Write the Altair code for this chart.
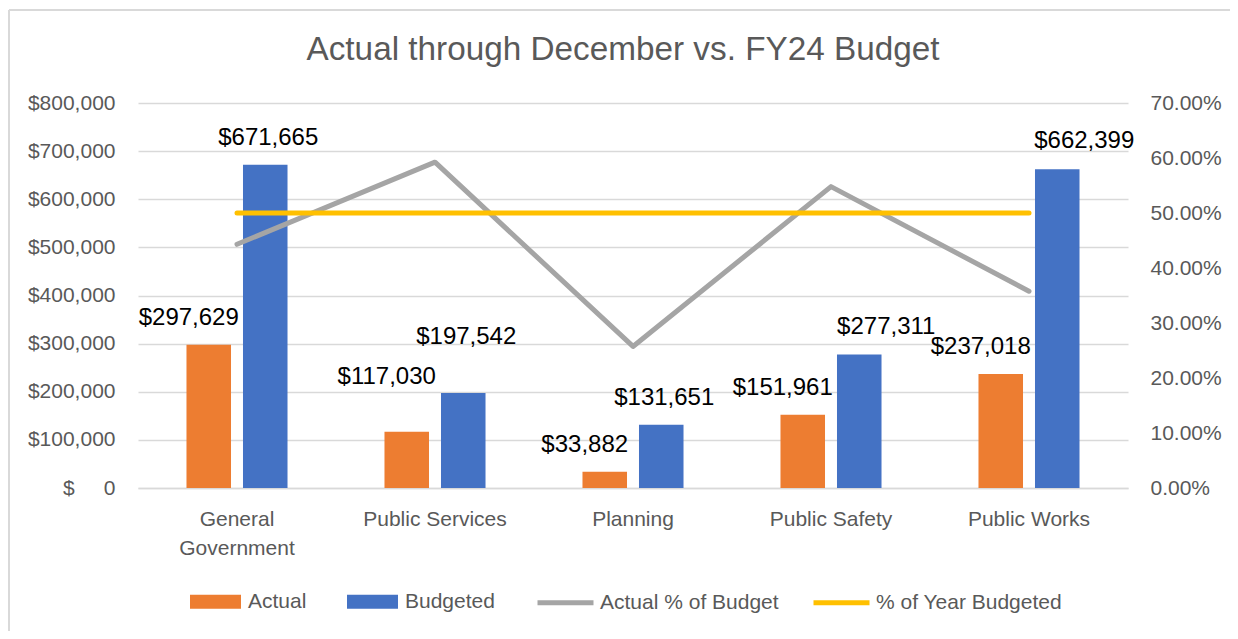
import altair as alt
import pandas as pd

categories = ["General Government", "Public Services", "Planning", "Public Safety", "Public Works"]
actual = [297629, 117030, 33882, 151961, 237018]
budgeted = [671665, 197542, 131651, 277311, 662399]
actual_pct = [0.4431, 0.5924, 0.2574, 0.5480, 0.3578]
year_budgeted = [0.50, 0.50, 0.50, 0.50, 0.50]

bar_series = ["Actual", "Budgeted"]
line_series = ["Actual % of Budget", "% of Year Budgeted"]
bar_colors = ["#ED7D31", "#4472C4"]
line_colors = ["#A5A5A5", "#FFC000"]

left_ticks = [0, 100000, 200000, 300000, 400000, 500000, 600000, 700000, 800000]
right_ticks = [0.0, 0.1, 0.2, 0.3, 0.4, 0.5, 0.6, 0.7]

title_text = "Actual through December vs. FY24 Budget"

FONT = "Liberation Sans"
GREY = "#595959"
GRID = "#D9D9D9"

bars_df = pd.DataFrame({
    "category": categories * 2,
    "bar_series": [bar_series[0]] * len(categories) + [bar_series[1]] * len(categories),
    "amount": actual + budgeted,
})
bars_df["label"] = bars_df["amount"].map(lambda v: f"${v:,.0f}")

lines_df = pd.DataFrame({
    "category": categories * 2,
    "line_series": [line_series[0]] * len(categories) + [line_series[1]] * len(categories),
    "pct": actual_pct + year_budgeted,
    "idx": list(range(len(categories))) * 2,
})

x_enc = alt.X(
    "category:N",
    sort=categories,
    scale=alt.Scale(paddingInner=0, paddingOuter=0),
    axis=alt.Axis(
        title=None, labelAngle=0, labelFont=FONT, labelFontSize=21, labelColor=GREY,
        labelPadding=20, ticks=False, tickSize=0, domainColor=GRID, domainWidth=1.3,
        labelLineHeight=29, labelLimit=0, labelBaseline="top",
        labelExpr="datum.label == 'General Government' ? ['General', 'Government'] : datum.label",
    ),
)
xoff_enc = alt.XOffset(
    "bar_series:N",
    sort=bar_series,
    scale=alt.Scale(domain=bar_series, paddingInner=0.212, paddingOuter=0.858),
)
y_left = alt.Y(
    "amount:Q",
    scale=alt.Scale(domain=[0, 800000], nice=False, zero=True),
    axis=alt.Axis(
        title=None, values=left_ticks, grid=True, gridColor=GRID, gridWidth=1.3,
        ticks=False, domain=False, labelPadding=23, labelFont=FONT, labelFontSize=21,
        labelColor=GREY,
        labelExpr="datum.value == 0 ? '$\u00a0\u00a0\u00a0\u00a0\u00a00' : '$' + format(datum.value, ',')",
    ),
)

bars = alt.Chart(bars_df).mark_bar().encode(
    x=x_enc,
    xOffset=xoff_enc,
    y=y_left,
    color=alt.Color(
        "bar_series:N",
        scale=alt.Scale(domain=bar_series, range=bar_colors),
        legend=alt.Legend(
            title=None, orient="none", direction="horizontal", legendX=52, legendY=473,
            symbolType="M-1,-0.275H1V0.275H-1Z", symbolSize=2601, symbolStrokeWidth=0,
            labelFont=FONT, labelFontSize=21, labelColor=GREY, labelOffset=7,
            columnPadding=40, padding=0, labelLimit=0,
        ),
    ),
)


def label_layer(series, cats, dx, dy):
    return (
        alt.Chart(bars_df)
        .transform_filter(alt.datum.bar_series == series)
        .transform_filter(alt.FieldOneOfPredicate(field="category", oneOf=cats))
        .mark_text(font=FONT, fontSize=24, color="#000000", baseline="middle",
                   align="center", dx=dx, dy=dy)
        .encode(x=x_enc, xOffset=xoff_enc, y=y_left, text="label:N")
    )


labels = [
    label_layer("Actual", ["General Government", "Planning", "Public Safety", "Public Works"], -20, -27),
    label_layer("Actual", ["Public Services"], -20, -55),
    label_layer("Budgeted", ["General Government", "Planning"], 3, -27),
    label_layer("Budgeted", ["Public Services"], 3, -56),
    label_layer("Budgeted", ["Public Safety", "Public Works"], 27, -28),
]

left = alt.layer(bars, *labels)

lines = alt.Chart(lines_df).mark_line(strokeWidth=5, strokeCap="round", strokeJoin="round").encode(
    x=x_enc,
    y=alt.Y(
        "pct:Q",
        scale=alt.Scale(domain=[0, 0.7], nice=False, zero=True),
        axis=alt.Axis(
            title=None, orient="right", values=right_ticks, format=".2%", grid=False,
            ticks=False, domain=False, labelPadding=22, labelFont=FONT, labelFontSize=21,
            labelColor=GREY,
        ),
    ),
    stroke=alt.Stroke(
        "line_series:N",
        scale=alt.Scale(domain=line_series, range=line_colors),
        legend=alt.Legend(
            title=None, orient="none", direction="horizontal", legendX=397, legendY=469,
            symbolType="stroke", symbolSize=3136, symbolStrokeWidth=5,
            labelFont=FONT, labelFontSize=21, labelColor=GREY, labelOffset=4,
            columnPadding=24, padding=0, labelLimit=0,
        ),
    ),
    order=alt.Order("idx:Q"),
)

deco_df = pd.DataFrame({"title": [title_text]})

frame_top = alt.Chart(deco_df).mark_rule(color=GRID, strokeWidth=2).encode(
    x=alt.value(-129), x2=alt.value(1300), y=alt.value(-93)
)
frame_left = alt.Chart(deco_df).mark_rule(color=GRID, strokeWidth=2).encode(
    x=alt.value(-129), y=alt.value(-93), y2=alt.value(700)
)

title = alt.Chart(deco_df).mark_text(
    font=FONT, fontSize=33.3, color=GREY, align="center", baseline="alphabetic"
).encode(
    x=alt.value(485), y=alt.value(-43), text="title:N"
)

chart = (
    alt.layer(frame_top, frame_left, title, left, lines)
    .resolve_scale(y="independent")
    .properties(
        width=990,
        height=385,
        padding={"left": 130, "top": 95, "right": 102, "bottom": 143},
        autosize=alt.AutoSizeParams(type="none"),
        background="white",
    )
    .configure_view(stroke=None)
)

chart.save("out.html", embed_options={"renderer": "svg", "actions": False})
